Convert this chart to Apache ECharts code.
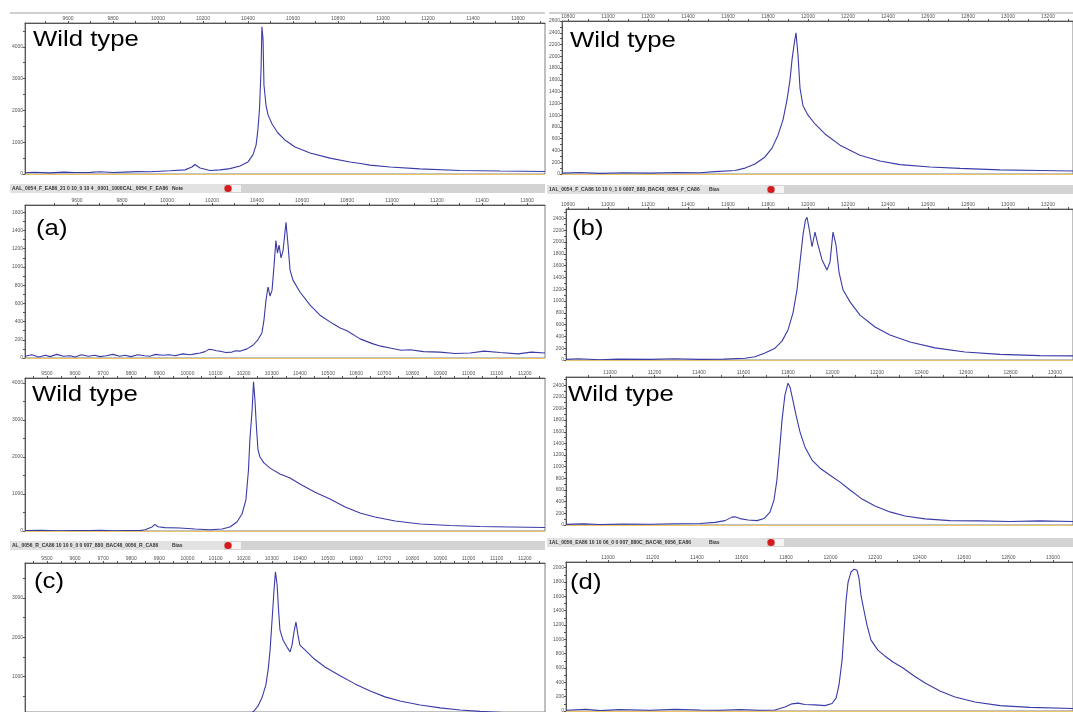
<!DOCTYPE html>
<html>
<head>
<meta charset="utf-8">
<title>spectra</title>
<script src="https://cdn.jsdelivr.net/npm/echarts@6/dist/echarts.min.js"></script>
<style>
html,body{margin:0;padding:0;background:#fff;}
#main{width:1073px;height:712px;}
</style>
</head>
<body>
<div id="main"></div>
<script>
/* 8 个质谱面板：x = m/z, y = 强度 */

// tick labels
var xLabA = [9600, 9800, 10000, 10200, 10400, 10600, 10800, 11000, 11200, 11400, 11600];
var xLabB = [10800, 11000, 11200, 11400, 11600, 11800, 12000, 12200, 12400, 12600, 12800, 13000, 13200];
var xLabC = [9500, 9600, 9700, 9800, 9900, 10000, 10100, 10200, 10300, 10400, 10500, 10600, 10700, 10800, 10900, 11000, 11100, 11200];
var xLabD = [11000, 11200, 11400, 11600, 11800, 12000, 12200, 12400, 12600, 12800, 13000];
var yLabWt1 = [0, 1000, 2000, 3000, 4000];
var yLabWt2 = [0, 200, 400, 600, 800, 1000, 1200, 1400, 1600, 1800, 2000, 2200, 2400, 2600];
var yLabA = [0, 200, 400, 600, 800, 1000, 1200, 1400, 1600];
var yLabB = [0, 200, 400, 600, 800, 1000, 1200, 1400, 1600, 1800, 2000, 2200, 2400];
var yLabWt3 = [0, 1000, 2000, 3000, 4000];
var yLabWt4 = [0, 200, 400, 600, 800, 1000, 1200, 1400, 1600, 1800, 2000, 2200, 2400];
var yLabC = [1000, 2000, 3000];
var yLabD = [0, 200, 400, 600, 800, 1000, 1200, 1400, 1600, 1800, 2000];

// 上排左 Wild type
var wt1X = [9409, 9450, 9520, 9580, 9631, 9700, 9742, 9800, 9853, 9910, 9964, 10010, 10053, 10120, 10151, 10164, 10187, 10231, 10276, 10320, 10364, 10400, 10422, 10436, 10444, 10451, 10458, 10462, 10467, 10471, 10480, 10489, 10507, 10533, 10564, 10609, 10676, 10764, 10853, 10900, 10942, 11031, 11164, 11342, 11520, 11720];
var wt1Y = [40, 55, 35, 60, 45, 50, 70, 45, 60, 75, 70, 85, 100, 130, 220, 300, 190, 110, 130, 170, 250, 380, 600, 910, 1390, 2020, 3280, 4630, 4220, 2800, 2170, 1860, 1575, 1290, 1070, 850, 660, 500, 380, 330, 280, 220, 160, 110, 95, 80];
// 上排右 Wild type
var wt2X = [10770, 10860, 10960, 11080, 11210, 11340, 11460, 11535, 11635, 11685, 11735, 11785, 11820, 11850, 11875, 11895, 11910, 11920, 11930, 11940, 11950, 11960, 11975, 12000, 12035, 12085, 12160, 12260, 12360, 12460, 12610, 12760, 12960, 13160, 13325];
var wt2Y = [15, 25, 10, 20, 15, 25, 20, 40, 60, 100, 170, 290, 440, 660, 920, 1260, 1600, 1940, 2190, 2400, 2020, 1460, 1160, 1000, 850, 680, 490, 320, 220, 160, 120, 95, 70, 60, 50];
// (a)
var aX = [9369, 9400, 9430, 9460, 9480, 9510, 9540, 9570, 9591, 9620, 9650, 9680, 9702, 9730, 9760, 9790, 9813, 9840, 9870, 9900, 9924, 9950, 9980, 10010, 10036, 10070, 10102, 10124, 10147, 10169, 10186, 10204, 10220, 10236, 10262, 10289, 10305, 10324, 10356, 10382, 10404, 10422, 10431, 10440, 10449, 10458, 10467, 10476, 10484, 10491, 10498, 10507, 10516, 10529, 10538, 10547, 10560, 10591, 10636, 10680, 10738, 10770, 10800, 10858, 10916, 10950, 10991, 11040, 11080, 11140, 11213, 11280, 11347, 11410, 11480, 11560, 11620, 11680];
var aY = [20, 35, 10, 30, 15, 40, 20, 25, 10, 35, 20, 30, 15, 25, 40, 20, 30, 15, 35, 25, 20, 40, 30, 35, 25, 45, 35, 45, 55, 70, 95, 90, 80, 75, 60, 65, 80, 75, 100, 140, 200, 275, 415, 635, 780, 680, 745, 1020, 1290, 1150, 1240, 1100, 1180, 1490, 1240, 965, 855, 725, 580, 470, 375, 330, 300, 210, 155, 130, 110, 85, 90, 70, 65, 50, 55, 75, 60, 45, 65, 55];
// (b)
var bX = [10790, 10850, 10960, 11050, 11210, 11330, 11460, 11580, 11685, 11735, 11785, 11835, 11870, 11900, 11925, 11945, 11960, 11975, 11987, 11995, 12007, 12020, 12035, 12050, 12070, 12095, 12110, 12125, 12140, 12155, 12175, 12210, 12260, 12335, 12410, 12510, 12635, 12785, 12960, 13160, 13325];
var bY = [10, 20, 5, 15, 10, 20, 10, 15, 30, 55, 120, 200, 320, 510, 800, 1190, 1660, 2120, 2370, 2420, 2200, 1920, 2170, 1950, 1700, 1525, 1660, 2170, 1950, 1490, 1190, 985, 760, 560, 425, 305, 205, 135, 95, 75, 70];
// 第三排左 Wild type
var wt3X = [9422, 9480, 9540, 9600, 9650, 9689, 9740, 9778, 9831, 9849, 9874, 9884, 9895, 9920, 9973, 10027, 10080, 10123, 10151, 10176, 10194, 10208, 10217, 10222, 10230, 10235, 10240, 10246, 10251, 10258, 10272, 10294, 10329, 10365, 10400, 10454, 10507, 10561, 10614, 10667, 10739, 10828, 10934, 11041, 11148, 11272];
var wt3Y = [10, 20, 5, 15, 10, 20, 5, 15, 10, 35, 110, 180, 115, 90, 80, 55, 35, 55, 110, 245, 460, 840, 1650, 2460, 3270, 4030, 3540, 2730, 2190, 2000, 1840, 1700, 1540, 1430, 1270, 1050, 865, 650, 485, 380, 270, 190, 150, 120, 110, 95];
// 第三排右 Wild type
var wt4X = [10802, 10880, 10955, 11060, 11180, 11290, 11404, 11472, 11517, 11548, 11562, 11584, 11620, 11661, 11692, 11719, 11737, 11750, 11762, 11773, 11786, 11800, 11809, 11822, 11836, 11854, 11876, 11908, 11944, 11989, 12034, 12079, 12133, 12191, 12258, 12326, 12416, 12528, 12663, 12798, 12932, 13081];
var wt4Y = [10, 20, 8, 15, 12, 22, 25, 45, 75, 135, 140, 110, 85, 75, 110, 220, 430, 770, 1285, 1800, 2230, 2435, 2365, 2140, 1885, 1595, 1340, 1115, 975, 855, 735, 600, 445, 325, 225, 155, 105, 75, 70, 60, 70, 60];
// (c)
var cX = [9422, 9689, 9956, 10187, 10222, 10237, 10251, 10265, 10279, 10287, 10294, 10301, 10308, 10313, 10319, 10324, 10329, 10340, 10354, 10365, 10372, 10379, 10386, 10393, 10400, 10418, 10447, 10489, 10543, 10596, 10650, 10703, 10756, 10828, 10899, 10970, 11041, 11148, 11272];
var cY = [40, 50, 45, 50, 50, 125, 255, 460, 790, 1170, 1680, 2440, 3210, 3665, 3330, 2700, 2190, 1930, 1755, 1630, 1800, 2140, 2390, 2060, 1800, 1680, 1475, 1245, 1020, 815, 635, 485, 380, 280, 205, 150, 115, 75, 50];
// (d)
var dX = [10811, 10900, 10964, 11050, 11189, 11300, 11413, 11500, 11593, 11683, 11750, 11795, 11827, 11854, 11885, 11930, 11975, 12007, 12025, 12038, 12052, 12061, 12070, 12079, 12092, 12106, 12119, 12128, 12137, 12150, 12164, 12182, 12213, 12245, 12281, 12326, 12371, 12425, 12492, 12559, 12649, 12762, 12896, 13090];
var dY = [10, 25, 5, 20, 10, 25, 15, 10, 20, 10, 15, 55, 100, 110, 90, 85, 75, 105, 180, 360, 710, 1130, 1545, 1800, 1940, 1980, 1965, 1855, 1615, 1410, 1200, 990, 850, 765, 685, 600, 500, 390, 280, 195, 125, 75, 50, 35];

var panels = [
	{xs: wt1X, ys: wt1Y, left: 25, top: 23, width: 520, height: 151, xMin: 9409, xMax: 11720, yMin: 0, yMax: 4750, xLab: xLabA, yLab: yLabWt1, tag: 'Wild type', tx: 33, ty: 40},
	{xs: wt2X, ys: wt2Y, left: 562, top: 21, width: 511, height: 153, xMin: 10770, xMax: 13325, yMin: 0, yMax: 2600, xLab: xLabB, yLab: yLabWt2, tag: 'Wild type', tx: 570, ty: 41},
	{xs: aX, ys: aY, left: 25, top: 205, width: 520, height: 153, xMin: 9369, xMax: 11680, yMin: 0, yMax: 1680, xLab: xLabA, yLab: yLabA, tag: '(a)', tx: 36, ty: 229},
	{xs: bX, ys: bY, left: 566, top: 209, width: 507, height: 151, xMin: 10790, xMax: 13325, yMin: 0, yMax: 2560, xLab: xLabB, yLab: yLabB, tag: '(b)', tx: 572, ty: 229},
	{xs: wt3X, ys: wt3Y, left: 25, top: 378, width: 520, height: 153, xMin: 9422, xMax: 11272, yMin: 0, yMax: 4135, xLab: xLabC, yLab: yLabWt3, tag: 'Wild type', tx: 32, ty: 395},
	{xs: wt4X, ys: wt4Y, left: 566, top: 377, width: 507, height: 148, xMin: 10802, xMax: 13081, yMin: 0, yMax: 2540, xLab: xLabD, yLab: yLabWt4, tag: 'Wild type', tx: 568, ty: 395},
	{xs: cX, ys: cY, left: 25, top: 563, width: 520, height: 149, xMin: 9422, xMax: 11272, yMin: 100, yMax: 3890, xLab: xLabC, yLab: yLabC, tag: '(c)', tx: 34, ty: 582},
	{xs: dX, ys: dY, left: 566, top: 562, width: 507, height: 149, xMin: 10811, xMax: 13090, yMin: 0, yMax: 2080, xLab: xLabD, yLab: yLabD, tag: '(d)', tx: 570, ty: 583}
];

//刻度：标签值加上中点
function withHalf(arr) {
	var step = arr.length > 1 ? arr[1] - arr[0] : 1000,
		out = [arr[0] - step / 2];
	for (var i = 0; i < arr.length; i++) {
		out.push(arr[i]);
		out.push(arr[i] + step / 2);
	}
	return out;
}

function zip(xs, ys) {
	return xs.map(function(v, i) { return [v, ys[i]]; });
}

//状态栏
function statusBar(x0, x1, y, dotX, name, note) {
	return [
		{type: 'rect', shape: {x: x0, y: y, width: x1 - x0, height: 9}, style: {fill: '#d3d3d3'}},
		{type: 'rect', shape: {x: x0, y: y, width: dotX - x0 - 4, height: 9}, style: {fill: '#e2e2e2'}},
		{type: 'rect', shape: {x: dotX + 4, y: y + 1, width: 9, height: 7}, style: {fill: '#f4f4f4'}},
		{type: 'text', x: x0 + 2, y: y + 4.5, style: {text: name, fill: '#333', font: 'bold 5px "Liberation Sans", Arial, sans-serif', verticalAlign: 'middle'}},
		{type: 'text', x: x0 + 162, y: y + 4.5, style: {text: note, fill: '#333', font: 'bold 5px "Liberation Sans", Arial, sans-serif', verticalAlign: 'middle'}},
		{type: 'circle', shape: {cx: dotX, cy: y + 4.5, r: 3.6}, style: {fill: '#d7191c'}}
	];
}

function plain(v) { return String(v); }

var grids = [], xAxes = [], yAxes = [], series = [], graphics = [];
panels.forEach(function(p, i) {
	grids.push({
		left: p.left, top: p.top, width: p.width, height: p.height,
		containLabel: false, outerBoundsMode: 'none',
		show: true, borderColor: '#808080', borderWidth: 1, backgroundColor: '#fff'
	});
	xAxes.push({
		type: 'value', gridIndex: i, position: 'top', min: p.xMin, max: p.xMax,
		axisLine: {show: true, onZero: false, lineStyle: {color: '#555', width: 1}},
		axisTick: {show: true, length: 2, customValues: withHalf(p.xLab), lineStyle: {color: '#555'}},
		axisLabel: {show: true, customValues: p.xLab, formatter: plain, fontSize: 5, color: '#555', margin: 2, fontFamily: 'Liberation Sans'},
		splitLine: {show: false}
	});
	yAxes.push({
		type: 'value', gridIndex: i, min: p.yMin, max: p.yMax,
		axisLine: {show: true, lineStyle: {color: '#555', width: 1}},
		axisTick: {show: true, length: 2, customValues: withHalf(p.yLab).filter(function(v) { return v >= p.yMin && v <= p.yMax; }), lineStyle: {color: '#555'}},
		axisLabel: {show: true, customValues: p.yLab, formatter: plain, fontSize: 5, color: '#555', margin: 2, fontFamily: 'Liberation Sans'},
		splitLine: {show: false}
	});
	series.push({
		type: 'line', xAxisIndex: i, yAxisIndex: i,
		data: zip(p.xs, p.ys),
		showSymbol: false, silent: true, clip: true,
		lineStyle: {color: '#3a3aa8', width: 1.1},
		markLine: p.yMin > 0 ? undefined : {
			silent: true, symbol: ['none', 'none'], label: {show: false},
			lineStyle: {color: '#e8c46a', type: 'solid', width: 1},
			data: [{yAxis: 0}]
		}
	});
	graphics.push({
		type: 'text', x: p.tx, y: p.ty, scaleX: 1.17,
		style: {text: p.tag, fill: '#000', font: '22px "Liberation Sans", Arial, sans-serif', verticalAlign: 'middle'}
	});
});

// 窗口上边线
graphics.push({type: 'line', shape: {x1: 10, y1: 13, x2: 545, y2: 13}, style: {stroke: '#a0a0a0', lineWidth: 1}});
graphics.push({type: 'line', shape: {x1: 549, y1: 13, x2: 1073, y2: 13}, style: {stroke: '#a0a0a0', lineWidth: 1}});
graphics = graphics
	.concat(statusBar(10, 545, 184, 228, 'AAL_0054_F_EA86_21 0 10_0 10 4 _0001_1000CAL_0054_F_EA86', 'Note'))
	.concat(statusBar(547, 1073, 185, 771, '1AL_0054_F_CA86 10 10 0_1 0 0007_880_BAC48_0054_F_CA86', 'Bias'))
	.concat(statusBar(10, 545, 541, 228, 'AL_0056_R_CA86 10 10 0_0 0 007_880_BAC48_0056_R_CA86', 'Bias'))
	.concat(statusBar(547, 1073, 538, 771, '1AL_0056_EA86 10 10 06_0 0 007_880C_BAC48_0056_EA86', 'Bias'));

var myChart = echarts.init(document.getElementById('main'), null, {renderer: 'canvas'});
var option = {
	backgroundColor: '#fff',
	animation: false,
	grid: grids,
	xAxis: xAxes,
	yAxis: yAxes,
	series: series,
	graphic: graphics
};
myChart.setOption(option);
</script>
</body>
</html>
